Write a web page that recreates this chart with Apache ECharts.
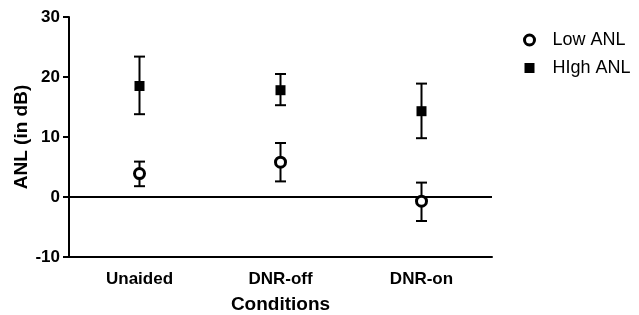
<!DOCTYPE html>
<html>
<head>
<meta charset="utf-8">
<script src="https://cdn.jsdelivr.net/npm/echarts@6/dist/echarts.min.js"></script>
<style>
  html, body { margin: 0; padding: 0; background: #fff; }
  #chart { width: 639px; height: 315px; }
</style>
</head>
<body>
<div id="chart"></div>
<script>
// values
var conditions = ['Unaided', 'DNR-off', 'DNR-on']
var lowMean = [3.9, 5.8, -0.7]
var lowErrLow = [1.8, 2.6, -4.0]
var lowErrHigh = [5.9, 9.0, 2.4]
var highMean = [18.5, 17.8, 14.3]
var highErrLow = [13.8, 15.3, 9.8]
var highErrHigh = [23.4, 20.5, 18.9]
var yTicks = [-10, 0, 10, 20, 30]

var font = 'Liberation Sans, Arial, Helvetica, sans-serif'

function errorData(lo, hi) {
  return conditions.map(function(c, i) { return [i, lo[i], hi[i]] })
}

function renderError(params, api) {
  var x = api.value(0)
  var top = api.coord([x, api.value(2)])
  var bot = api.coord([x, api.value(1)])
  var half = 5.5
  var style = { stroke: '#000', lineWidth: 2 }
  return {
    type: 'group',
    children: [
      { type: 'line', shape: { x1: top[0], y1: top[1], x2: bot[0], y2: bot[1] }, style: style },
      { type: 'line', shape: { x1: top[0] - half, y1: top[1], x2: top[0] + half, y2: top[1] }, style: style },
      { type: 'line', shape: { x1: bot[0] - half, y1: bot[1], x2: bot[0] + half, y2: bot[1] }, style: style }
    ]
  }
}

var chart = echarts.init(document.getElementById('chart'))
chart.setOption({
  animation: false,
  grid: { left: 69, right: 147, top: 17, bottom: 58, outerBoundsMode: 'none' },
  legend: {
    orient: 'vertical',
    left: 518,
    top: 26,
    itemWidth: 10,
    itemHeight: 10,
    itemGap: 10,
    data: [
      { name: 'Low ANL', icon: 'circle', itemStyle: { color: '#fff', borderColor: '#000', borderWidth: 3 } },
      { name: 'HIgh ANL', icon: 'rect', itemStyle: { color: '#000' } }
    ],
    textStyle: { fontFamily: font, fontSize: 18, color: '#000', padding: [0, 0, 0, 13] }
  },
  xAxis: {
    type: 'category',
    data: conditions,
    name: 'Conditions',
    nameLocation: 'middle',
    nameGap: 38,
    nameMoveOverlap: false,
    nameTextStyle: { fontFamily: font, fontSize: 19, fontWeight: 'bold', color: '#000' },
    axisLine: { onZero: false, lineStyle: { color: '#000', width: 2 } },
    axisTick: { alignWithLabel: true, length: 6, lineStyle: { width: 2, color: '#000' } },
    axisLabel: { fontFamily: font, fontSize: 17, fontWeight: 'bold', color: '#000', margin: 14 },
    splitLine: { show: false }
  },
  yAxis: {
    type: 'value',
    min: yTicks[0],
    max: yTicks[yTicks.length - 1],
    interval: 10,
    name: 'ANL (in dB)',
    nameLocation: 'middle',
    nameGap: 38,
    nameMoveOverlap: false,
    nameTextStyle: { fontFamily: font, fontSize: 19, fontWeight: 'bold', color: '#000' },
    axisLine: { show: true, lineStyle: { color: '#000', width: 2 } },
    axisTick: { show: true, length: 6, lineStyle: { width: 2, color: '#000' } },
    axisLabel: { fontFamily: font, fontSize: 17, fontWeight: 'bold', color: '#000', margin: 9 },
    splitLine: { show: false }
  },
  series: [
    {
      type: 'custom',
      renderItem: renderError,
      data: errorData(lowErrLow, lowErrHigh),
      z: 2,
      silent: true,
      markLine: {
        silent: true,
        symbol: 'none',
        label: { show: false },
        lineStyle: { color: '#000', width: 2, type: 'solid' },
        data: [{ yAxis: 0 }]
      }
    },
    {
      type: 'custom',
      renderItem: renderError,
      data: errorData(highErrLow, highErrHigh),
      z: 2,
      silent: true
    },
    {
      name: 'Low ANL',
      type: 'scatter',
      symbol: 'circle',
      symbolSize: 10,
      data: lowMean,
      z: 5,
      itemStyle: { color: '#fff', borderColor: '#000', borderWidth: 3, opacity: 1 }
    },
    {
      name: 'HIgh ANL',
      type: 'scatter',
      symbol: 'rect',
      symbolSize: 10,
      data: highMean,
      z: 5,
      itemStyle: { color: '#000', opacity: 1 }
    }
  ]
})
</script>
</body>
</html>
